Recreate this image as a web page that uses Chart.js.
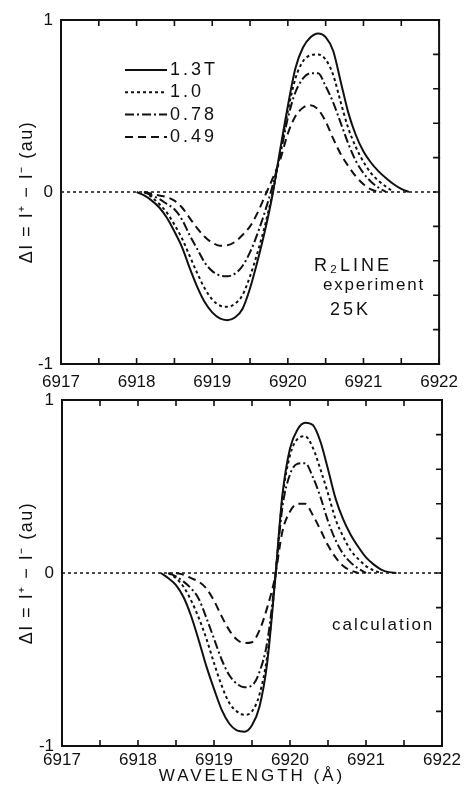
<!DOCTYPE html>
<html><head><meta charset="utf-8">
<script src="https://cdn.jsdelivr.net/npm/chart.js@4/dist/chart.umd.min.js"></script>
<style>
html,body{margin:0;padding:0;background:#fff;width:466px;height:787px;overflow:hidden}
canvas{position:absolute;left:0}
#c1{top:0}
#c2{top:380px}
</style></head><body>
<canvas id="c1" width="466" height="395"></canvas>
<canvas id="c2" width="466" height="407"></canvas>
<script>
// ---- data ----
const fieldLabels = ['1.3T', '1.0', '0.78', '0.49'];
const xTickLabels = ['6917', '6918', '6919', '6920', '6921', '6922'];
const yTickLabels = ['-1', '0', '1'];

// top panel: experiment
const wlTop = [6918.0,6918.1,6918.2,6918.3,6918.4,6918.5,6918.6,6918.7,6918.8,6918.9,
  6919.0,6919.1,6919.2,6919.3,6919.4,6919.5,6919.6,6919.7,6919.8,6919.9,
  6920.0,6920.1,6920.2,6920.3,6920.4,6920.5,6920.6,6920.7,6920.8,6920.9,
  6921.0,6921.1,6921.2,6921.3,6921.4,6921.5,6921.6];
const expB13 = [0,-0.02,-0.05,-0.09,-0.15,-0.23,-0.32,-0.44,-0.55,-0.64,
  -0.70,-0.735,-0.745,-0.73,-0.68,-0.56,-0.40,-0.22,-0.01,0.25,
  0.50,0.72,0.84,0.90,0.922,0.90,0.82,0.64,0.46,0.33,
  0.235,0.17,0.12,0.08,0.045,0.018,0];
const expB10 = [null,0,-0.03,-0.07,-0.12,-0.19,-0.27,-0.37,-0.47,-0.56,
  -0.625,-0.66,-0.667,-0.65,-0.60,-0.49,-0.35,-0.19,0.0,0.23,
  0.47,0.66,0.76,0.795,0.80,0.77,0.68,0.52,0.37,0.26,
  0.175,0.11,0.065,0.03,0,null,null];
const expB078 = [null,0,-0.02,-0.04,-0.07,-0.10,-0.16,-0.25,-0.33,-0.41,
  -0.46,-0.485,-0.49,-0.475,-0.43,-0.35,-0.24,-0.11,0.04,0.22,
  0.43,0.58,0.66,0.69,0.69,0.615,0.52,0.40,0.28,0.18,
  0.11,0.06,0.025,0,null,null,null];
const expB049 = [null,0,-0.01,-0.02,-0.03,-0.05,-0.09,-0.15,-0.21,-0.26,
  -0.295,-0.312,-0.31,-0.29,-0.25,-0.20,-0.12,-0.02,0.08,0.19,
  0.34,0.44,0.49,0.505,0.48,0.41,0.31,0.22,0.15,0.09,
  0.045,0.015,0,null,null,null,null];

// bottom panel: calculation
const wlBot = [6918.3,6918.4,6918.5,6918.6,6918.7,6918.8,6918.9,
  6919.0,6919.1,6919.2,6919.3,6919.4,6919.5,6919.6,6919.7,6919.8,6919.9,
  6920.0,6920.1,6920.2,6920.3,6920.4,6920.5,6920.6,6920.7,6920.8,6920.9,
  6921.0,6921.1,6921.2,6921.3,6921.4];
const calB13 = [0,-0.03,-0.07,-0.14,-0.25,-0.39,-0.54,
  -0.67,-0.79,-0.87,-0.91,-0.917,-0.88,-0.77,-0.52,-0.06,0.45,
  0.72,0.83,0.868,0.855,0.76,0.60,0.43,0.31,0.22,0.15,
  0.09,0.05,0.02,0.005,0];
const calB10 = [null,0,-0.03,-0.08,-0.16,-0.26,-0.38,
  -0.52,-0.65,-0.75,-0.80,-0.82,-0.80,-0.70,-0.48,-0.06,0.43,
  0.68,0.775,0.79,0.725,0.60,0.46,0.31,0.21,0.13,0.08,
  0.04,0.015,0,null,null];
const calB078 = [null,0,-0.02,-0.05,-0.09,-0.15,-0.26,
  -0.38,-0.50,-0.59,-0.64,-0.66,-0.65,-0.57,-0.40,-0.05,0.38,
  0.57,0.632,0.635,0.555,0.44,0.30,0.19,0.11,0.06,0.025,
  0,null,null,null,null];
const calB049 = [null,null,0,-0.01,-0.03,-0.05,-0.09,
  -0.16,-0.25,-0.33,-0.385,-0.405,-0.40,-0.33,-0.20,-0.03,0.24,
  0.355,0.40,0.40,0.335,0.25,0.16,0.09,0.04,0.015,0,
  null,null,null,null,null];

const zeroLineX = [6917, 6922];
const zeroLineY = [0, 0];

// ---- styling ----
const INK = '#111';
const dashes = [[], [3, 3], [9, 3, 2, 3], [8, 5]];
const FONT = "'Liberation Sans', Arial, sans-serif";

// linear scale whose axis title is drawn with letter spacing
class SpacedLinear extends Chart.LinearScale {
  static id = 'spacedLinear';
  drawTitle() {
    const sp = this.axis === 'x' ? '3px' : '1.5px';
    this.ctx.save();
    this.ctx.letterSpacing = sp;
    super.drawTitle();
    this.ctx.restore();
  }
}
Chart.register(SpacedLinear);

function pts(xs, ys) { return xs.map((x, i) => ({x: x, y: ys[i]})); }

function makeDatasets(xs, seriesList) {
  const ds = seriesList.map((s, i) => ({
    label: fieldLabels[i],
    data: pts(xs, s),
    borderColor: INK,
    borderWidth: 2,
    borderDash: dashes[i],
    pointRadius: 0,
    fill: false,
    cubicInterpolationMode: 'monotone',
    spanGaps: false
  }));
  ds.push({
    label: 'zero',
    data: pts(zeroLineX, zeroLineY),
    borderColor: INK,
    borderWidth: 1.5,
    borderDash: [3, 3],
    pointRadius: 0,
    fill: false
  });
  return ds;
}

const frameTicks = {
  id: 'frameTicks',
  afterDraw(chart) {
    const {ctx, chartArea: a, scales: {x, y}} = chart;
    ctx.save();
    ctx.strokeStyle = INK;
    ctx.setLineDash([]);
    ctx.lineWidth = 2;
    ctx.strokeRect(a.left, a.top, a.right - a.left, a.bottom - a.top);
    ctx.lineWidth = 1.6;
    ctx.beginPath();
    x.ticks.forEach(t => {
      const px = x.getPixelForValue(t.value);
      ctx.moveTo(px, a.top); ctx.lineTo(px, a.top + 6);
      ctx.moveTo(px, a.bottom); ctx.lineTo(px, a.bottom - 6);
    });
    y.ticks.forEach(t => {
      const py = y.getPixelForValue(t.value);
      ctx.moveTo(a.right - 6, py); ctx.lineTo(a.right + 1, py);
    });
    ctx.stroke();
    ctx.restore();
  }
};

const legendBox = {
  id: 'legendBox',
  afterDraw(chart, args, opts) {
    if (!opts.show) return;
    const {ctx} = chart;
    ctx.save();
    ctx.fillStyle = INK; ctx.strokeStyle = INK;
    ctx.font = '18px ' + FONT;
    ctx.letterSpacing = '3px';
    ctx.textBaseline = 'middle';
    chart.data.datasets.slice(0, 4).forEach((d, i) => {
      const yy = opts.y0 + i * opts.dy;
      ctx.lineWidth = 2;
      ctx.setLineDash(d.borderDash);
      ctx.beginPath(); ctx.moveTo(opts.x0, yy); ctx.lineTo(opts.x1, yy); ctx.stroke();
      ctx.setLineDash([]);
      ctx.fillText(d.label, opts.x1 + 3, yy);
    });
    ctx.restore();
  }
};

const notes = {
  id: 'notes',
  afterDraw(chart, args, opts) {
    const {ctx} = chart;
    ctx.save();
    ctx.fillStyle = INK;
    ctx.textBaseline = 'middle';
    (opts.items || []).forEach(n => {
      ctx.font = n.size + 'px ' + FONT;
      ctx.letterSpacing = n.sp + 'px';
      ctx.fillText(n.text, n.x, n.y);
    });
    ctx.restore();
  }
};

function makeChart(id, xs, series, cfg) {
  return new Chart(document.getElementById(id), {
    type: 'line',
    data: {datasets: makeDatasets(xs, series)},
    options: {
      responsive: false,
      animation: false,
      devicePixelRatio: 1,
      layout: {padding: {top: cfg.padTop, right: 24, left: 0, bottom: 0}},
      plugins: {
        legend: {display: false},
        tooltip: {enabled: false},
        legendBox: cfg.legend,
        notes: {items: cfg.notes}
      },
      scales: {
        x: {
          type: 'spacedLinear', min: 6917, max: 6922,
          grid: {display: false, drawTicks: false},
          border: {display: false},
          ticks: {
            stepSize: 0.5, autoSkip: false, maxRotation: 0, padding: cfg.xPad,
            color: INK, font: {family: FONT, size: 17},
            callback: v => { const k = xTickLabels.indexOf(String(Math.round(v * 10) / 10)); return k >= 0 ? xTickLabels[k] : ''; }
          },
          title: cfg.xTitle,
          afterFit: s => { s.height = cfg.xHeight; }
        },
        y: {
          type: 'spacedLinear', min: -1, max: 1,
          grid: {display: false, drawTicks: false},
          border: {display: false},
          ticks: {
            stepSize: 0.2, autoSkip: false, padding: 8,
            color: INK, font: {family: FONT, size: 17},
            callback: v => { const r = String(Math.round(v * 1000) / 1000); return yTickLabels.includes(r) ? r : ''; }
          },
          title: {display: true, text: 'ΔI = I⁺ − I⁻ (au)', color: INK,
                  font: {family: FONT, size: 18}, padding: {top: 16, bottom: 0}},
          afterFit: s => { s.width = cfg.yWidth; }
        }
      }
    },
    plugins: [frameTicks, legendBox, notes]
  });
}

makeChart('c1', wlTop, [expB13, expB10, expB078, expB049], {
  padTop: 20, xHeight: 31, yWidth: 61, xPad: 8,
  xTitle: {display: false},
  legend: {show: true, x0: 125, x1: 167, y0: 70, dy: 22.3},
  notes: [
    {text: 'R₂LINE', x: 314, y: 266, size: 18, sp: 3},
    {text: 'experiment', x: 323, y: 285, size: 17, sp: 1.8},
    {text: '25K', x: 330, y: 310, size: 18, sp: 3}
  ]
});

makeChart('c2', wlBot, [calB13, calB10, calB078, calB049], {
  padTop: 20, xHeight: 41, yWidth: 62, xPad: 4,
  xTitle: {display: true, text: 'WAVELENGTH (Å)', color: INK,
           font: {family: FONT, size: 17}, padding: {top: 2, bottom: 0}},
  legend: {show: false},
  notes: [
    {text: 'calculation', x: 332, y: 245, size: 17, sp: 2}
  ]
});
</script>
</body></html>
